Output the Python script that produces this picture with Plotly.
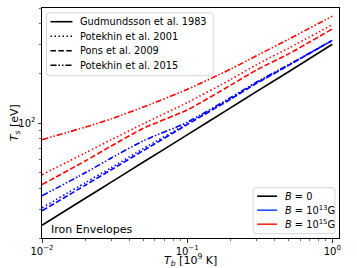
import plotly.graph_objects as go

# Core temperature T_b [10^9 K]
tb = [0.01, 0.02, 0.03, 0.05, 0.1, 0.2, 0.3, 0.5, 1.0]

# Surface temperatures T_s [eV]
gud_b0 = [23.9, 35.0, 43.7, 57.9, 84.7, 124, 155, 205, 301]

pot01_b13 = [30.5, 43.5, 53.5, 70, 99, 141, 175, 225, 318]
pons09_b13 = [29.3, 42, 52, 68, 97.7, 140, 174, 224, 318]
pot15_b13 = [36.1, 50, 61.3, 78, 101, 143, 177, 226, 318]

pot01_b15 = [48.5, 66, 79.2, 99, 133, 184, 226, 285, 396]
pons09_b15 = [42.2, 59, 72.5, 93, 120, 170, 210, 263, 373]
pot15_b15 = [79.2, 94.5, 106, 125, 160, 213, 256, 323, 446]

model_labels = ["Gudmundsson et al. 1983", "Potekhin et al. 2001",
                "Pons et al. 2009", "Potekhin et al. 2015"]
field_labels = ["<i>B</i> = 0", "<i>B</i> = 10<sup>13</sup>G", "<i>B</i> = 10<sup>15</sup>G"]

x_major = [0.01, 0.1, 1.0]
x_major_text = ["10<sup>−2</sup>", "10<sup>−1</sup>", "10<sup>0</sup>"]
x_minor = [0.02, 0.03, 0.04, 0.05, 0.06, 0.07, 0.08, 0.09,
           0.2, 0.3, 0.4, 0.5, 0.6, 0.7, 0.8, 0.9]
y_major = [100]
y_major_text = ["10<sup>2</sup>"]
y_minor = [20, 30, 40, 50, 60, 70, 80, 90, 200, 300, 400, 500]

DOT = "1.5px,2.5px"
DASH = "5.5px,2.4px"
DASHDOTDOT = "6px,2px,1.5px,2px,1.5px,2px"

W, H = 357, 268
L, R, T, B = 41.5, 18, 8.3, 29.7
PW, PH = W - L - R, H - T - B


def px(x):
    return (x - L) / PW


def py(y):
    return (H - B - y) / PH


fig = go.Figure()


def add(y, color, dash):
    fig.add_trace(go.Scatter(x=tb, y=y, mode="lines", showlegend=False,
                             line=dict(color=color, width=1.6, dash=dash,
                                       shape="spline", smoothing=0.6)))


add(gud_b0, "black", "solid")
add(pot01_b13, "blue", DOT)
add(pons09_b13, "blue", DASH)
add(pot15_b13, "blue", DASHDOTDOT)
add(pot01_b15, "red", DOT)
add(pons09_b15, "red", DASH)
add(pot15_b15, "red", DASHDOTDOT)

axis_common = dict(showline=True, linecolor="black", linewidth=1, mirror=True,
                   ticks="outside", ticklen=3.5, tickcolor="black", tickwidth=0.8,
                   showgrid=False, zeroline=False, automargin=False,
                   tickfont=dict(family="DejaVu Sans", size=10, color="black"))

fig.update_xaxes(type="log", range=[-2, 0.046], tickmode="array",
                 tickvals=x_major, ticktext=x_major_text,
                 minor=dict(tickmode="array", tickvals=x_minor, ticks="outside",
                            ticklen=2, tickcolor="black", tickwidth=0.6),
                 **axis_common)
fig.update_yaxes(type="log", range=[1.30103, 2.69897], tickmode="array",
                 tickvals=y_major, ticktext=y_major_text,
                 minor=dict(tickmode="array", tickvals=y_minor, ticks="outside",
                            ticklen=2, tickcolor="black", tickwidth=0.6),
                 **axis_common)

font_txt = dict(family="DejaVu Sans", size=11, color="black")
font_leg = dict(family="DejaVu Sans", size=9.8, color="black")

# axis titles
fig.add_annotation(x=px(190), y=py(260.5), xref="paper", yref="paper",
                   text="<i>T<sub>b</sub></i> [10<sup>9</sup> K]", showarrow=False,
                   xanchor="center", yanchor="middle", font=font_txt)
fig.add_annotation(x=px(14), y=py(123), xref="paper", yref="paper",
                   text="<i>T<sub>s</sub></i> [eV]", showarrow=False, textangle=-90,
                   xanchor="center", yanchor="middle", font=font_txt)

fig.add_annotation(x=px(49), y=py(229.5), xref="paper", yref="paper", xanchor="left",
                   yanchor="middle", text="Iron Envelopes", showarrow=False,
                   font=font_txt)

shapes = []


def legend_box(x0, y0, x1, y1, r=3):
    a0, a1 = px(x0), px(x1)
    b0, b1 = py(y0), py(y1)  # b0 top, b1 bottom (paper)
    rx, ry = r / PW, r / PH
    path = (f"M{a0 + rx},{b0} L{a1 - rx},{b0} Q{a1},{b0} {a1},{b0 - ry} "
            f"L{a1},{b1 + ry} Q{a1},{b1} {a1 - rx},{b1} "
            f"L{a0 + rx},{b1} Q{a0},{b1} {a0},{b1 + ry} "
            f"L{a0},{b0 - ry} Q{a0},{b0} {a0 + rx},{b0} Z")
    shapes.append(dict(type="path", xref="paper", yref="paper", path=path,
                       fillcolor="rgba(255,255,255,0.85)",
                       line=dict(color="#d6d6d6", width=1), layer="above"))


def legend_item(xl0, xl1, xt, y, color, dash, label):
    shapes.append(dict(type="line", xref="paper", yref="paper",
                       x0=px(xl0), x1=px(xl1), y0=py(y), y1=py(y),
                       line=dict(color=color, width=1.6, dash=dash), layer="above"))
    fig.add_annotation(x=px(xt), y=py(y), xref="paper", yref="paper",
                       xanchor="left", yanchor="middle", text=label,
                       showarrow=False, font=font_leg)


legend_box(46, 13, 213, 76)
for lab, d, yy in zip(model_labels, ["solid", DOT, DASH, DASHDOTDOT],
                      [22, 36.5, 51, 65.5]):
    legend_item(50, 72, 78, yy, "black", d, lab)

legend_box(253, 188, 335, 234)
for lab, c, yy in zip(field_labels, ["black", "#1f4fff", "#ff2a1a"],
                      [196.5, 210.5, 224.5]):
    legend_item(257, 277, 283, yy, c, "solid", lab)

fig.update_layout(
    width=W, height=H,
    margin=dict(l=L, r=R, t=T, b=B, autoexpand=False),
    plot_bgcolor="white", paper_bgcolor="white",
    showlegend=False,
    shapes=shapes,
)

fig.write_html("out.html",
               config={"displayModeBar": False, "staticPlot": True},
               post_script="document.body.style.margin='0';"
                           "document.body.style.overflow='hidden';")
